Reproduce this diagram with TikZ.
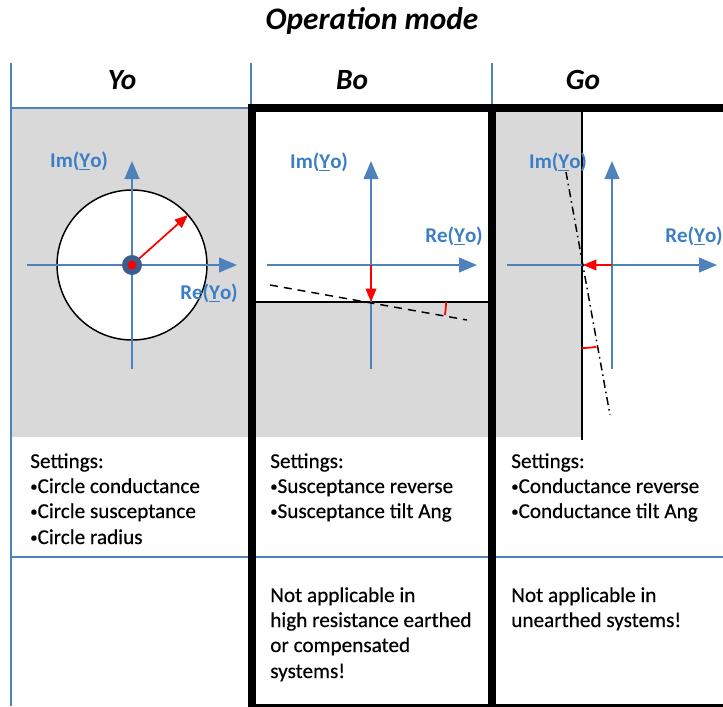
\documentclass[tikz,border=0pt]{standalone}
\usepackage{fontspec}
\setmainfont{Carlito}
\newfontfamily\bodyfont[FakeBold=0.4]{Carlito}
\usetikzlibrary{arrows.meta}
\definecolor{axisblue}{HTML}{4F81BD}
\definecolor{labelblue}{HTML}{3C7EC6}
\definecolor{panelgray}{HTML}{D9D9D9}
\definecolor{dotblue}{HTML}{3B5E8C}
\newcommand{\Ylab}{\underline{Y}o}
\newcommand{\sbul}{\raisebox{1.3pt}{\fontsize{11}{11}\selectfont•}}
\begin{document}
\begin{tikzpicture}[x=0.75pt,y=-0.75pt,
  axisline/.style={draw=axisblue,line width=1.5pt,-{Triangle[length=13.5pt,width=11pt]}},
  redarrow/.style={draw=red,line width=1.3pt,-{Triangle[length=10pt,width=8pt]}},
  redarc/.style={draw=red,line width=1.3pt},
  gridline/.style={draw=axisblue,line width=1pt},
  thickframe/.style={draw=black,line width=6pt},
  thinblack/.style={draw=black,line width=1.1pt},
  axlabel/.style={text=labelblue,font=\fontsize{15.75}{18}\selectfont\bfseries,inner sep=0pt},
  bodytext/.style={font=\bodyfont\fontsize{15.9}{18}\selectfont,anchor=base west,inner sep=0pt},
  headtext/.style={font=\fontsize{22}{25}\selectfont\bfseries\itshape,inner sep=0pt},
]
\useasboundingbox (0,0) rectangle (723,706);
\fill[white] (0,0) rectangle (723,706);

% gray areas
\fill[panelgray] (12,109) rectangle (251,437);
\fill[panelgray] (251,302) rectangle (492,437);
\fill[panelgray] (492,108) rectangle (582,437);

% title and headers
\node[headtext,font=\fontsize{23.5}{27}\selectfont\bfseries\itshape] (title) at (372,21) {Operation mode};
\node[headtext] (hyo) at (122,80) {Yo};
\node[headtext] (hbo) at (352,80) {Bo};
\node[headtext] (hgo) at (583,80) {Go};

% table lines
\draw[gridline] (11,63) -- (11,706);
\draw[gridline] (251,63) -- (251,108);
\draw[gridline] (492,63) -- (492,108);
\draw[gridline] (11,108) -- (251,108);
\draw[gridline] (11,557) -- (723,557);

% ---------------- Yo panel
\draw[thinblack,fill=white] (132,265) circle[radius=75];
\draw[axisline] (27,265) -- (237,265);
\draw[axisline] (132,369) -- (132,161);
\coordinate (yoc) at (132,265);
\coordinate (yor) at (188,215);
\draw[redarrow] (yoc) -- (yor);
\fill[dotblue] (yoc) circle[radius=10];
\fill[red] (yoc) circle[radius=4.5];
\node[axlabel] (yoim) at (79,161) {Im(\Ylab)};
\node[axlabel] (yore) at (209,293) {Re(\Ylab)};

% ---------------- Bo panel
\draw[thinblack] (251,302) -- (492,302);
\draw[axisline] (267,265) -- (477,265);
\draw[axisline] (371,369) -- (371,161);
\coordinate (boc) at (371,265);
\coordinate (bob) at (371,302);
\draw[redarrow] (boc) -- (bob);
\coordinate (bod1) at (270,285);
\coordinate (bod2) at (467,320);
\draw[black,line width=1.1pt,dash pattern=on 6pt off 4.5pt] (bod1) -- (bod2);
\draw[redarc] (446,302) arc[start angle=0,end angle=10,radius=75];
\node[axlabel] (boim) at (319,162) {Im(\Ylab)};
\node[axlabel] (bore) at (454,236) {Re(\Ylab)};

% ---------------- Go panel
\draw[thinblack] (582,108) -- (582,440);
\draw[axisline] (507,265) -- (717,265);
\draw[axisline] (612,369) -- (612,161);
\coordinate (goc) at (612,265);
\coordinate (gol) at (583,265);
\draw[redarrow] (goc) -- (gol);
\coordinate (god1) at (566,172);
\coordinate (god2) at (610,415);
\draw[black,line width=1.1pt,dash pattern=on 6pt off 3pt on 1.2pt off 3pt] (god1) -- (god2);
\draw[redarc] (582,348) arc[start angle=90,end angle=80,radius=83];
\node[axlabel] (goim) at (558,162) {Im(\Ylab)};
\node[axlabel] (gore) at (694,236) {Re(\Ylab)};

% thick frames
\draw[thickframe] (251.5,108.5) rectangle (491.5,708);
\draw[thickframe] (491.5,108.5) rectangle (745,708);

% ---------------- texts
\node[bodytext] (ys1) at (30,468) {Settings:};
\node[bodytext] (ys2) at (30,493) {\sbul Circle conductance};
\node[bodytext] (ys3) at (30,518) {\sbul Circle susceptance};
\node[bodytext] (ys4) at (30,544) {\sbul Circle radius};

\node[bodytext] (bs1) at (270,468) {Settings:};
\node[bodytext] (bs2) at (270,493) {\sbul Susceptance reverse};
\node[bodytext] (bs3) at (270,518) {\sbul Susceptance tilt Ang};

\node[bodytext] (gs1) at (511,468) {Settings:};
\node[bodytext] (gs2) at (511,493) {\sbul Conductance reverse};
\node[bodytext] (gs3) at (511,518) {\sbul Conductance tilt Ang};

\node[bodytext] (bn1) at (270,602) {Not applicable in};
\node[bodytext] (bn2) at (270,627) {high resistance earthed};
\node[bodytext] (bn3) at (270,652) {or compensated};
\node[bodytext] (bn4) at (270,678) {systems!};

\node[bodytext] (gn1) at (511,602) {Not applicable in};
\node[bodytext] (gn2) at (511,627) {unearthed systems!};
\end{tikzpicture}
\end{document}
